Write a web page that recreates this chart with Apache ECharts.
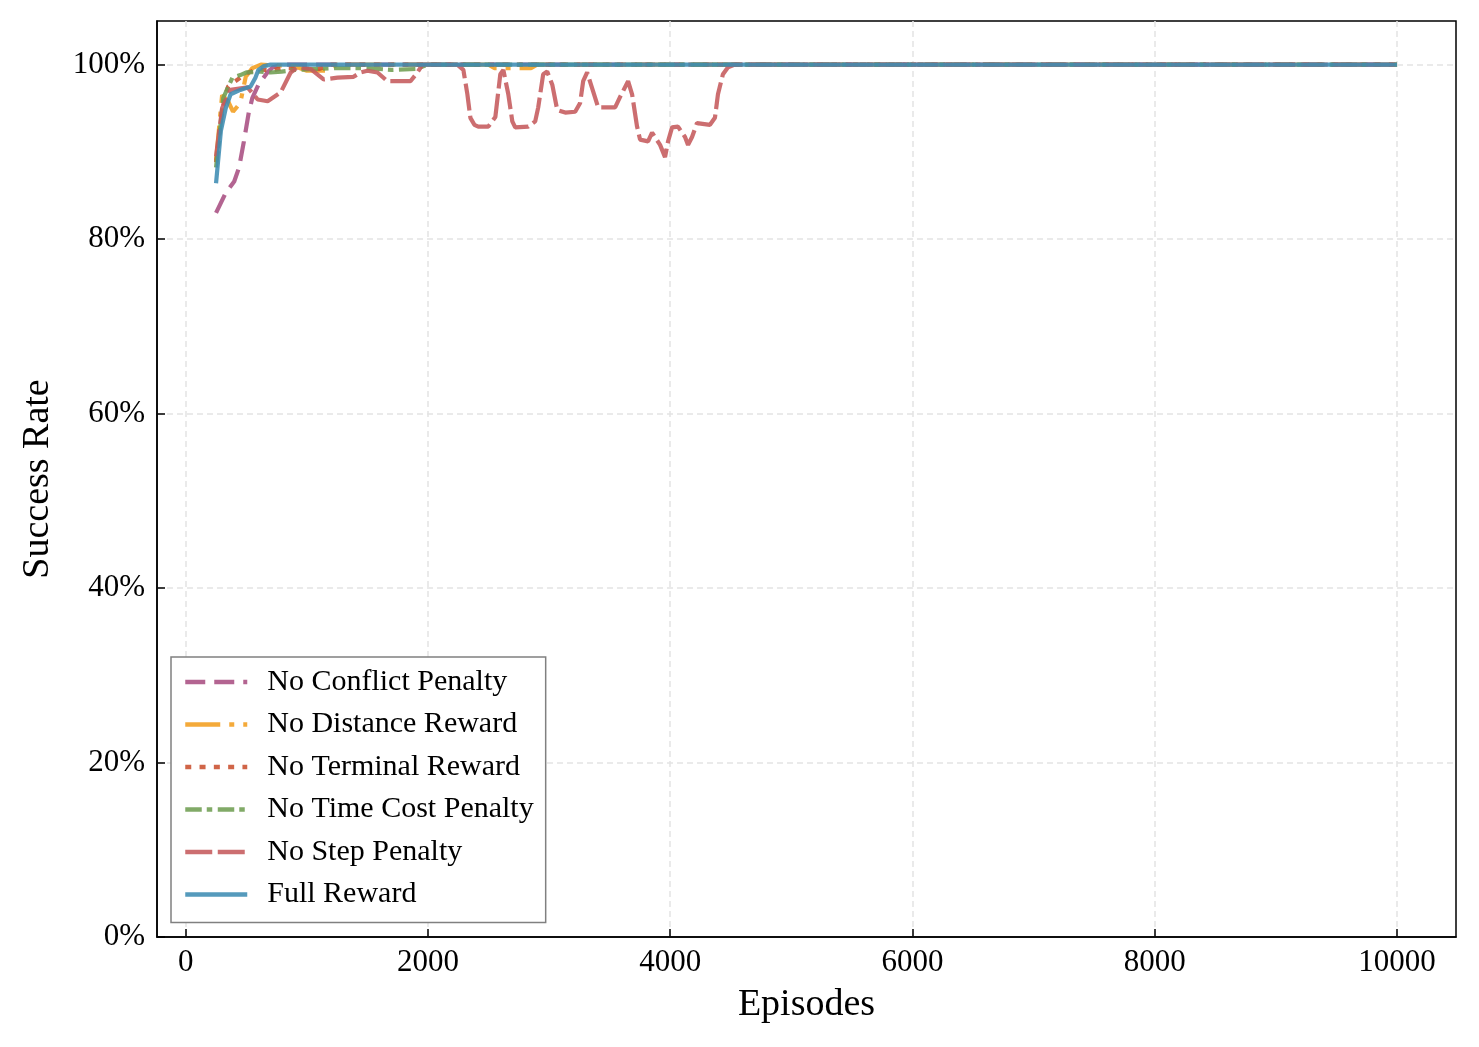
<!DOCTYPE html>
<html>
<head>
<meta charset="utf-8">
<script src="https://cdn.jsdelivr.net/npm/echarts@6/dist/echarts.min.js"></script>
<style>
  html, body { margin: 0; padding: 0; background: #fff; }
  #chart { width: 1479px; height: 1047px; }
</style>
</head>
<body>
<div id="chart"></div>
<script>
// ---- data: [episode, success %] ----
var seriesNames = ['No Conflict Penalty', 'No Distance Reward', 'No Terminal Reward',
                   'No Time Cost Penalty', 'No Step Penalty', 'Full Reward'];

var conflictData = [[250, 83], [330, 85.3], [400, 86.6], [440, 88.2], [480, 91.2], [520, 94.5],
    [550, 96.2], [600, 97.7], [680, 99.2], [720, 99.7], [800, 100], [10000, 100]];

var distanceData = [[250, 89], [300, 96.5], [350, 95.8], [390, 94.6], [450, 95.6], [495, 98.6],
    [550, 99.6], [620, 100], [900, 99.8], [1000, 99.3], [1150, 99.3], [1250, 100], [2500, 100],
    [2550, 99.6], [2850, 99.6], [2900, 100], [10000, 100]];

var terminalData = [[250, 88.8], [290, 93.5], [320, 96.2], [350, 97.5], [400, 98], [450, 98.5],
    [500, 99], [600, 99.5], [700, 99.3], [800, 99.6], [1100, 99.5], [1200, 100], [10000, 100]];

var timeCostData = [[250, 88.2], [310, 96.2], [385, 98.5], [450, 98.8], [500, 99.1], [620, 99.2],
    [700, 99.1], [790, 99.2], [900, 99.4], [1250, 99.6], [1500, 99.6], [1700, 99.4], [1900, 99.5],
    [2000, 100], [10000, 100]];

var stepData = [[250, 89.5], [300, 95], [370, 97.1], [510, 97.4], [594, 96], [676, 95.8],
    [783, 96.8], [866, 99.1], [923, 99.7], [1030, 99.5], [1138, 98.3], [1253, 98.5], [1385, 98.6],
    [1443, 99.1], [1500, 99.3], [1583, 99.1], [1665, 98.1], [1855, 98.1], [1913, 99.1], [1954, 100],
    [2242, 100], [2292, 99.4], [2325, 96.6], [2350, 93.9], [2383, 93.1], [2415, 92.9], [2498, 92.9],
    [2556, 94], [2597, 98.9], [2622, 99.4], [2663, 96.6], [2696, 93.5], [2720, 92.8], [2828, 92.9],
    [2885, 93.5], [2910, 95.1], [2951, 98.9], [2984, 99.2], [3026, 97.7], [3067, 94.8], [3133, 94.5],
    [3215, 94.6], [3256, 95.6], [3281, 98.1], [3314, 99.1], [3364, 96.9], [3405, 95.1], [3545, 95.1],
    [3586, 96.3], [3652, 98.1], [3685, 96.6], [3726, 92.9], [3751, 91.4], [3817, 91.2], [3850, 92.2],
    [3916, 90.8], [3957, 89.4], [3982, 91.2], [4015, 92.8], [4064, 92.9], [4122, 91.7], [4147, 90.8],
    [4180, 91.7], [4221, 93.3], [4328, 93.1], [4369, 93.9], [4394, 96.6], [4435, 98.9], [4477, 99.7],
    [4534, 100], [10000, 100]];

var fullData = [[250, 86.4], [290, 92.4], [330, 95], [370, 96.6], [450, 97.1], [535, 97.5],
    [575, 98.5], [600, 99.4], [640, 99.8], [700, 100], [10000, 100]];

var colors = ['#a84f82', '#f29e1f', '#c9502f', '#6f9e52', '#c55a5c', '#3e8cb3'];
var dashes = [[20, 9], [35, 9, 5, 9], [6, 8.3], [16.5, 5, 5.5, 5.5], [27, 5.5], 'solid'];
var allData = [conflictData, distanceData, terminalData, timeCostData, stepData, fullData];

var font = '"Liberation Serif", "Times New Roman", serif';

var chart = echarts.init(document.getElementById('chart'), null, { renderer: 'canvas' });

var series = seriesNames.map(function (name, i) {
    return {
        name: name,
        type: 'line',
        data: allData[i],
        symbol: 'none',
        smooth: false,
        animation: false,
        lineStyle: { color: colors[i], width: 4.2, type: dashes[i], opacity: 0.88, cap: 'butt' },
        itemStyle: { color: colors[i] }
    };
});

chart.setOption({
    backgroundColor: '#fff',
    grid: {
        left: 157, right: 23, top: 21, bottom: 110,
        show: true, borderColor: '#000', borderWidth: 1.5, backgroundColor: 'transparent'
    },
    legend: {
        orient: 'vertical',
        left: 171,
        top: 657,
        padding: [10, 12, 13, 12],
        itemWidth: 62,
        itemHeight: 14,
        itemGap: 12.5,
        borderColor: '#808080',
        borderWidth: 1.5,
        borderRadius: 0,
        backgroundColor: '#fff',
        itemStyle: { color: 'rgba(0,0,0,0)', borderColor: 'rgba(0,0,0,0)', borderWidth: 0 },
        lineStyle: { width: 4.5, opacity: 0.88 },
        textStyle: { fontFamily: font, fontSize: 30, color: '#000', padding: [0, 0, 0, 15] },
        data: seriesNames
    },
    xAxis: {
        type: 'value',
        min: -237.5,
        max: 10487.5,
        splitNumber: 5,
        name: 'Episodes',
        nameLocation: 'middle',
        nameGap: 49,
        nameTextStyle: { fontFamily: font, fontSize: 38, color: '#000' },
        axisLine: { show: true, onZero: false, lineStyle: { color: '#000', width: 1.5 } },
        axisTick: { show: true, inside: true, length: 8, lineStyle: { color: '#000', width: 1.5 } },
        axisLabel: { fontFamily: font, fontSize: 31, color: '#000', margin: 10,
                     showMinLabel: false, showMaxLabel: false,
                     formatter: function (v) { return String(v); } },
        splitLine: { show: true, showMinLine: false, showMaxLine: false,
                     lineStyle: { color: '#e3e3e3', width: 1.5, type: [6, 4] } }
    },
    yAxis: {
        type: 'value',
        min: 0,
        max: 105,
        interval: 20,
        name: 'Success Rate',
        nameLocation: 'middle',
        nameGap: 100,
        nameTextStyle: { fontFamily: font, fontSize: 38, color: '#000' },
        axisLine: { show: true, onZero: false, lineStyle: { color: '#000', width: 1.5 } },
        axisTick: { show: true, inside: true, length: 8, lineStyle: { color: '#000', width: 1.5 } },
        axisLabel: { fontFamily: font, fontSize: 31, color: '#000', margin: 12, padding: [9, 0, 0, 0],
                     showMaxLabel: false, formatter: '{value}%' },
        splitLine: { show: true, showMinLine: false, showMaxLine: false,
                     lineStyle: { color: '#e3e3e3', width: 1.5, type: [6, 4] } }
    },
    series: series
});

window.addEventListener('resize', function () { chart.resize(); });
</script>
</body>
</html>
